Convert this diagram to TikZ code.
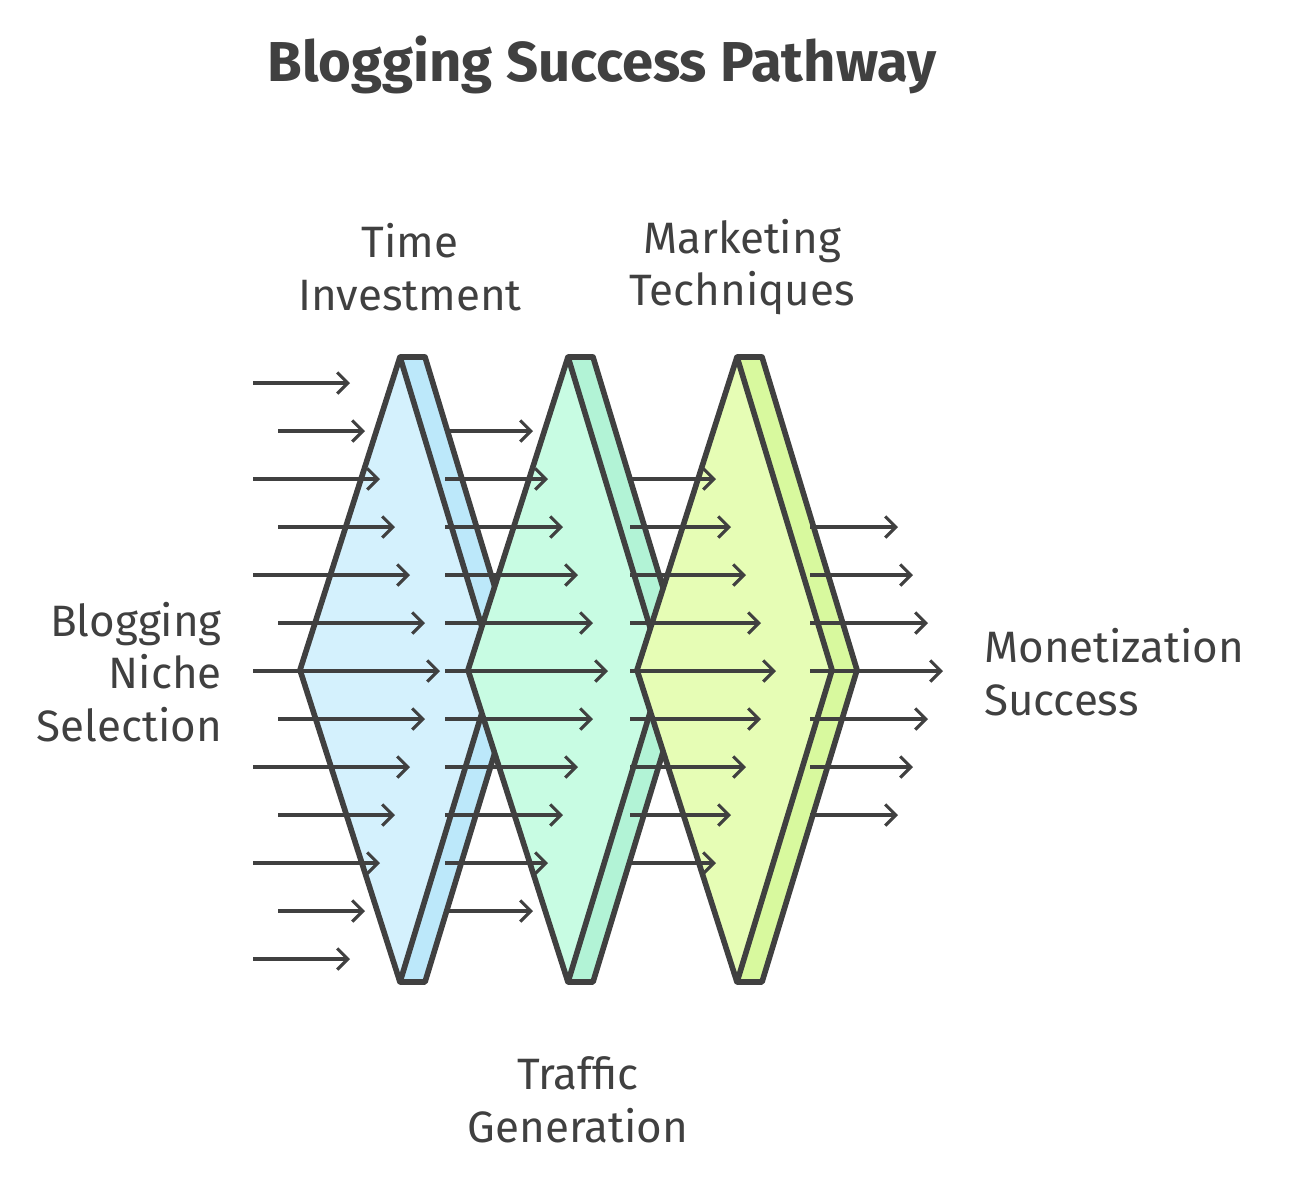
\documentclass[tikz,border=0pt]{standalone}
\usepackage{fontspec}
\setmainfont{Fira Sans}
\usetikzlibrary{arrows.meta}
\definecolor{ink}{HTML}{404040}
\definecolor{blueface}{HTML}{D4F1FD}
\definecolor{greenface}{HTML}{C8FCE3}
\definecolor{limeface}{HTML}{E6FDB5}
\definecolor{blueside}{HTML}{BCE8FA}
\definecolor{greenside}{HTML}{B2F3D6}
\definecolor{limeside}{HTML}{D8F99E}
\tikzset{
  panel/.style={draw=ink,line width=3.2pt,line join=round},
  flow/.style={draw=ink,line width=1.8pt,-{Straight Barb[length=6pt,width=12pt]}},
  lbl/.style={text=ink,font=\fontsize{25}{30}\selectfont,align=center}
}
\begin{document}
\begin{tikzpicture}[x=0.02cm,y=-0.02cm]
\useasboundingbox (0,0) rectangle (1291,1184);

% chevron panels
\foreach \cx/\col/\side in {400/blueface/blueside,568/greenface/greenside,737/limeface/limeside}{
  \fill[\side] (\cx,357) -- (\cx+25,357) -- (\cx+120,670) -- (\cx+25,982) -- (\cx,982) -- (\cx+95,670) -- cycle;
  \fill[\col] (\cx,357) -- (\cx+95,670) -- (\cx,982) -- (\cx-100,670) -- cycle;
  \draw[panel] (\cx,357) -- (\cx-100,670) -- (\cx,982);
  \draw[panel] (\cx,357) -- (\cx+25,357) -- (\cx+120,670) -- (\cx+25,982) -- (\cx,982) -- (\cx+95,670) -- cycle;
}

% arrows
\foreach \y/\s/\e in {383/253/350,431/278/365,479/253/380,527/278/395,575/253/410,623/278/425,671/253/440,719/278/425,767/253/410,815/278/395,863/253/380,911/278/365,959/253/350}
  \draw[flow] (\s,\y) -- (\e,\y);
\foreach \y/\e in {431/533,479/548,527/563,575/578,623/593,671/608,719/593,767/578,815/563,863/548,911/533}
  \draw[flow] (445,\y) -- (\e,\y);
\foreach \y/\e in {479/716,527/731,575/746,623/761,671/776,719/761,767/746,815/731,863/716}
  \draw[flow] (630,\y) -- (\e,\y);
\foreach \y/\e in {527/898,575/913,623/928,671/943,719/928,767/913,815/898}
  \draw[flow] (810,\y) -- (\e,\y);

% labels
\node[lbl,font=\bfseries\fontsize{32}{38}\selectfont] (title) at (602,65) {Blogging Success Pathway};
\node[lbl] (time) at (410,267) {Time\\Investment};
\node[lbl] (mkt) at (742,267) {Marketing\\Techniques};
\node[lbl,align=right,anchor=east] (niche) at (228,672) {Blogging\\Niche\\Selection};
\node[lbl,align=left,anchor=west] (money) at (978,672) {Monetization\\Success};
\node[lbl] (traffic) at (578,1100) {Traffic\\Generation};
\end{tikzpicture}
\end{document}
